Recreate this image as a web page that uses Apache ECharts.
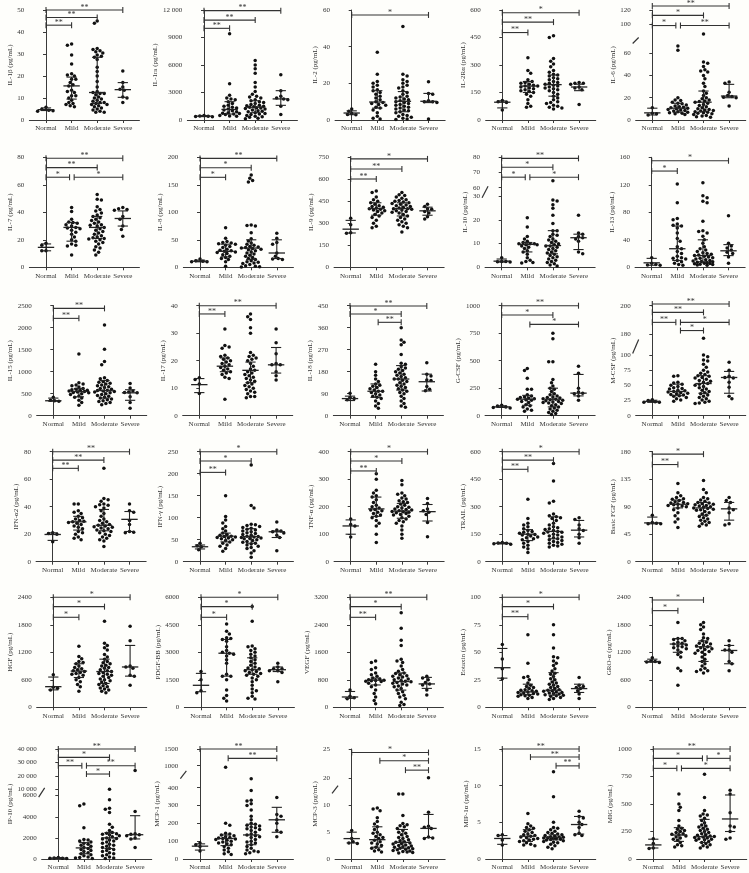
<!DOCTYPE html>
<html><head><meta charset="utf-8">
<script src="https://cdn.jsdelivr.net/npm/echarts@6/dist/echarts.min.js"></script>
<style>html,body{margin:0;padding:0;background:#fefefb}#c{width:749px;height:873px}</style>
</head><body><div id="c"></div><script>
// ---------------- DATA ----------------
const groups = ['Normal', 'Mild', 'Moderate', 'Severe'];

const IL1b = [[5.8,4.9,4.4,4.2,4.0],
 [34.5,34,29.5,25.5,21,20.5,20,18.5,18.5,17,16,15.5,13.5,13,12.5,11,11,10,9,8,7.5,7,6.5,6],
 [45,44,32.5,32,31.5,31,30.5,29.5,29,28.5,27.5,24,22,20,17.5,15,13,12.5,12,12,11.5,10.5,10,9.5,9,8.5,8,8,7.5,7,7,6.5,6,5.5,5,4.5,4,3.5,3.5],
 [22.3,17,15,14,13.5,10.5,10,8]];
const IL1b_stats = [[4.7,4.3,5.5],[15.5,9.5,19.5],[12.5,7.5,28.5],[13.8,10.3,17]];
const IL1b_sig = [[0,1,43.1,'**'],[0,2,46.6,'**'],[0,3,50,'**']];
const IL1b_ticks = [0,10,20,30,40,50];

const IL1ra = [[500,450,420,380,350],
 [9400,3950,2700,2400,2300,2200,2000,1800,1600,1500,1400,1300,1200,1100,1000,900,800,750,700,650,600,500,450,400],
 [6500,6000,5600,5100,4100,3600,3100,2800,2600,2500,2400,2200,2100,2000,1900,1800,1700,1600,1550,1500,1450,1400,1350,1300,1250,1200,1100,1000,950,900,800,700,650,600,500,400,350,300,200,150],
 [4950,3200,2600,2400,2300,2200,1500,600]];
const IL1ra_stats = [[420,370,480],[1150,650,2000],[1400,800,2100],[2300,1600,3200]];
const IL1ra_sig = [[0,1,10000,'**'],[0,2,10900,'**'],[0,3,11930,'**']];
const IL1ra_ticks = [0,3000,6000,9000,12000];

const IL2 = [[6,4.8,3.5,3.0,2.8],
 [37,25,21,20,19,18,16.5,16,15,14,13,12,11,10,9.5,9,8.5,8,7,6.5,5.5,4,2,1,0.5],
 [51,25,24,22,21,20,19,18,17.5,16,15,14,13,12.5,12,11.5,11,10.5,10,9.5,9,8.5,8,7.5,7,6.5,6,5.5,5,4.5,4,3,2.5,2,1.5,1,0.5,0.3],
 [20.8,14.5,14,10.5,10,10,9.5,0.5]];
const IL2_stats = [[3.8,2.9,5],[9.8,6.5,16],[10.2,4.5,15.5],[10.2,9.5,14.5]];
const IL2_sig = [[0,3,57.3,'*']];
const IL2_ticks = [0,20,40,60];

const IL2Ra = [[106,100,95,55],
 [340,270,255,220,210,205,200,195,190,185,185,180,175,170,165,160,155,150,140,130,110,90,75,70],
 [460,450,335,320,305,290,270,260,250,245,240,230,225,220,210,205,200,195,190,185,180,175,170,165,160,150,140,130,120,110,100,95,90,80,75,70,65,60],
 [205,200,200,195,180,175,165,85]];
const IL2Ra_stats = [[97,66,104],[185,150,210],[193,130,245],[180,160,195]];
const IL2Ra_sig = [[0,1,477,'**'],[0,2,534,'**'],[0,3,585,'*']];
const IL2Ra_ticks = [0,150,300,450,600];

const IL6 = [[11,6,5.5,4.5],
 [66.5,62.5,20,18,17.5,16,15,14.5,13.5,12.5,12,11.5,11,10.5,10,9.5,9,8.5,8,7.5,7,6.5,6,5.5,5],
 [87,52,51,48,45,44,43,40,37,33,30,26,24,22,20,19,18,17,16.5,16,15,14,13,12,11,10,9.5,9,8.5,8,7.5,7,6.5,6,5.5,5,4,3.5,3,2.5],
 [34,33,25,22,21,20.5,20,12.5]];
const IL6_stats = [[6.4,4.5,10.6],[10.6,7,15],[16,7.5,26],[21.5,20,32]];
const IL6_sig = [[0,1,98.6,'*'],[1,3,98.6,'**'],[0,2,112.6,'*'],[0,3,125.6,'**']];
const IL6_ticks = [0,20,40,60,100,120];

const IL7 = [[17.5,16,12,12],
 [43.5,40.5,35,33,32.5,32,31,30,29,28.5,28,27,25.5,24,22,20,19,17,16,15.5,9],
 [53,49.5,49,44,42,41,39.5,38,37,36,35,34,33,32,31,30.5,30,29,28,27,26,25,24,23,22,21.5,21,20.5,20,19,18,17,15,14,12.5,11,9],
 [43.5,42.5,42,41.5,37,35,30,27.5,22.5]];
const IL7_stats = [[14.5,12,17],[29,19,32.5],[29,21,37],[35.5,30,41]];
const IL7_sig = [[0,1,65.5,'*'],[1,3,65.5,'*'],[0,2,72.5,'**'],[0,3,79.3,'**']];
const IL7_ticks = [0,20,40,60,80];

const IL8 = [[15,12,11,10,10],
 [72,53,47,45,44,43,42,40,38,36,33,31,30,29,28,27,25,23,20,18,16,14,10,2],
 [168,162,158,155,77,76,75,63,52,48,44,42,40,38,37,36,35,34,33,32,30,28,26,24,22,20,18,16,14,12,10,9,8,7,5,3,2,1,0.5],
 [62,53,45,42,26,20,16,15,14]];
const IL8_stats = [[11,10,13],[29,19,42],[35,14,50],[26,16,50]];
const IL8_sig = [[0,1,163.6,'*'],[0,2,181,'*'],[0,3,198,'**']];
const IL8_ticks = [0,50,100,150,200];

const IL9 = [[335,290,235,232],
 [520,510,480,460,450,440,430,420,415,410,405,400,395,390,385,380,370,360,350,340,320,300,280,270],
 [510,495,490,480,470,460,455,450,445,440,435,430,425,420,415,410,405,400,400,395,390,385,380,375,370,360,350,340,330,320,310,300,290,280,270,240],
 [430,415,400,395,380,370,345,330]];
const IL9_stats = [[260,234,320],[400,355,440],[400,350,440],[385,355,410]];
const IL9_sig = [[0,1,602,'**'],[0,2,670,'**'],[0,3,739,'*']];
const IL9_ticks = [0,150,300,450,600,750];

const IL10 = [[4,2.5,2.5,2.3,2.2],
 [21,17,13,12,11,10.5,10,10,10,9.5,9.5,9,8.5,8,7,6.5,5.5,4,3,2.5,2,1.8],
 [64.5,28.5,28,26.5,25,22,18.5,15.5,15.5,14,13.5,13,12,11.5,11,10.5,10,9.5,9,9,8.5,8,7.5,7,6.5,6,5.5,5,4.5,4,3.5,3,2.5,2,1.5,1,0.5],
 [22,14.5,14,13,12.5,12,11,6.5,5.7]];
const IL10_stats = [[2.6,2.2,3.5],[9.7,6.5,10.5],[9.2,5.7,15.5],[12.5,7.5,14]];
const IL10_sig = [[0,1,66.9,'*'],[1,3,66.9,'*'],[0,2,73.4,'*'],[0,3,79.3,'**']];
const IL10_ticks = [0,10,20,30,60,70,80];

const IL13 = [[14,6,4,3.5,3],
 [121,94,71,69,63,61,60,57,50,42,38,30,27,23,20,16,14,13,12,10,8,6,4,3],
 [123,104,101,96,94,67,53,52,50,45,40,35,30,27,25,23,21,20,19,18,17,16,15,14,13,12,11,10,9,8.5,8,7.5,7,6,5.5,5,4.5,4,3.5,3],
 [75,35,31,28,25,22,20,15,6]];
const IL13_stats = [[6.5,3,13],[27,10,60],[17,8,40],[24,17,33]];
const IL13_sig = [[0,1,140,'*'],[0,3,155,'*']];
const IL13_ticks = [0,40,80,120,160];

const IL15 = [[420,350,340,330],
 [1400,750,720,700,680,650,620,600,590,580,570,560,550,540,530,520,500,480,450,420,400,350,300,240],
 [2060,1510,1230,1160,860,840,800,780,760,740,720,700,680,660,640,620,600,580,570,560,550,540,520,500,480,460,440,420,400,380,360,340,320,300,280,250],
 [730,630,560,540,530,520,430,300,170]];
const IL15_stats = [[340,330,400],[550,430,620],[570,400,800],[520,350,590]];
const IL15_sig = [[0,1,2212,'**'],[0,2,2439,'**']];
const IL15_ticks = [0,500,1000,1500,2000,2500];

const IL17 = [[13.8,13.2,11.5,8.1],
 [31.5,25.5,25,24.5,22,21.5,21,20.5,20,19.5,19,18.5,18,17.5,17,16.5,16,15.5,15,14,13.5,6],
 [37,36,35,32,30,23,22,21.5,21,20.5,20,19,18,17,16.5,16,15.5,15,14.5,14,13.5,13,12.5,12,11.5,11,10.5,10,9.5,9,8.5,8,7,7,6.5],
 [31.5,26.5,22.5,19,18.5,18.5,16,14.5,13]];
const IL17_stats = [[11.3,8.4,13.5],[18,16,21],[16.5,12,19.5],[18.5,15.5,24.8]];
const IL17_sig = [[0,1,37,'**'],[0,3,40,'**']];
const IL17_ticks = [0,10,20,30,40];

const IL18 = [[92,75,70,65],
 [210,180,165,150,140,130,125,120,115,110,105,100,100,95,90,85,80,75,70,60,50,40,30],
 [360,310,300,290,250,215,210,200,195,190,185,180,175,170,165,160,155,150,150,145,140,135,130,125,120,115,110,105,100,95,90,80,70,60,50,40,35],
 [217,170,162,146,144,119,108,102]];
const IL18_stats = [[70,62,80],[100,75,130],[150,105,205],[139,101,170]];
const IL18_sig = [[0,3,449,'**'],[0,2,416,'*'],[1,2,382,'**']];
const IL18_ticks = [0,90,180,270,360,450];

const GCSF = [[95,88,80,75,70],
 [430,410,340,240,240,190,180,170,165,160,155,150,145,140,130,120,100,90,80,60,50,40],
 [750,700,490,490,330,300,270,250,240,220,200,190,180,170,165,160,155,150,145,140,135,130,125,120,115,110,100,90,80,70,60,50,40,30,20,10],
 [450,385,250,215,205,200,180,140]];
const GCSF_stats = [[80,75,90],[150,95,185],[150,80,250],[205,180,375]];
const GCSF_sig = [[0,3,1000,'**'],[0,2,915,'*'],[1,3,830,'*']];
const GCSF_ticks = [0,250,500,750,1000];

const MCSF = [[26.5,25,23,22,22],
 [66,65,55,54,52,50,48,46,45,44,42,41,40,39,38,37,36,35,34,33,32,30,28,26,24],
 [177,100,97,92,90,85,80,75,72,70,68,66,65,63,62,60,58,57,55,53,52,50,48,46,44,42,40,38,36,34,32,30,28,26,24,22,21,20],
 [88,75,65,63,62,55,47,32,28]];
const MCSF_stats = [[23.5,22,25.5],[40,33,52],[53,37,66],[63,37,73]];
const MCSF_sig = [[0,3,201.2,'**'],[0,2,195.3,'**'],[0,1,188.2,'**'],[1,3,188.2,'*'],[1,2,182.4,'*']];
const MCSF_ticks = [0,25,50,75,100,180,200];

const IFNa2 = [[21,20.5,20,14.5],
 [42,42,37,36,35,33,32,31,30,29.5,29,28.5,28,27,26,25,24,22,21,20,18,17,16],
 [68,46,45,44,42,41.5,41,40,39,37,35,33,31,30,29,28,27,26.5,26,25.5,25,24.5,24,23,22.5,22,21,20,19,18,17,16,15,11],
 [42,37,36,30,27,22,21.5,21]];
const IFNa2_stats = [[19.8,15.5,21],[29,23,33],[26.5,22.5,38],[30.8,22,36.5]];
const IFNa2_sig = [[0,1,67.9,'**'],[0,2,73.9,'**'],[0,3,80,'**']];
const IFNa2_ticks = [0,20,40,60,80];

const IFNg = [[42,36,34,27],
 [150,103,95,88,80,75,70,65,62,60,58,57,56,55,54,52,50,48,45,42,38,35,30,24],
 [220,128,122,85,84,82,80,78,76,74,72,70,68,66,64,62,60,58,57,56,55,54,53,52,50,48,46,44,42,40,38,35,32,30,25,20,10],
 [90,72,70,68,65,60,55,25]];
const IFNg_stats = [[34,29,38],[58,45,65],[57,42,75],[68,55,70]];
const IFNg_sig = [[0,1,203,'**'],[0,2,228.8,'*'],[0,3,250,'*']];
const IFNg_ticks = [0,50,100,150,200,250];

const TNFa = [[155,135,130,90],
 [320,300,260,250,240,235,225,215,205,200,195,190,188,185,180,175,170,165,160,150,140,130,100,70],
 [295,280,250,245,240,232,228,222,218,215,210,205,200,198,195,192,190,188,185,183,182,180,178,175,172,170,165,160,155,150,145,140,130,115,100,85],
 [230,212,192,185,180,172,143,91]];
const TNFa_stats = [[130,100,152],[192,165,235],[184,158,212],[182,148,208]];
const TNFa_sig = [[0,1,330,'**'],[0,2,366,'*'],[0,3,400,'*']];
const TNFa_ticks = [0,100,200,300,400];

const TRAIL = [[105,102,100,98,95],
 [340,235,210,200,190,180,170,165,160,155,150,148,145,140,135,130,125,120,110,100,90,80,70,50],
 [535,440,330,320,260,250,245,240,235,225,210,200,190,185,180,175,170,165,162,160,155,150,145,140,135,130,125,120,115,110,105,100,95,90,85,80],
 [240,230,200,180,170,150,130,100]];
const TRAIL_stats = [[100,97,104],[150,115,175],[165,125,245],[172,135,225]];
const TRAIL_sig = [[0,1,504,'**'],[0,2,554,'**'],[0,3,600,'*']];
const TRAIL_ticks = [0,150,300,450,600];

const bFGF = [[76,64,63,62,62],
 [128,113,108,105,103,102,100,98,97,96,95,94,93,92,91,90,88,85,80,75,70,65,56],
 [133,118,113,105,103,101,99,97,96,95,94,93,92,91,90,89,88,87,86,85,84,82,80,78,76,74,72,70,68,66,64,62,60,58],
 [105,100,97,88,85,80,62,60]];
const bFGF_stats = [[63.5,62,73],[94,88,101],[88,76,97],[86.5,68,97]];
const bFGF_sig = [[0,1,159,'**'],[0,2,176,'*']];
const bFGF_ticks = [0,45,90,135,180];

const HGF = [[710,440,415,380],
 [1330,1110,1060,1000,980,950,900,870,840,820,800,780,760,740,720,700,650,600,560,500,450,350],
 [1880,1400,1350,1300,1250,1150,1100,1050,1000,970,950,920,900,870,850,820,800,780,760,740,720,700,680,650,620,600,580,550,520,500,470,450,420,400,380,350,320],
 [1770,1450,900,880,850,700,680,480]];
const HGF_stats = [[450,380,660],[790,650,950],[780,520,1050],[880,680,1350]];
const HGF_sig = [[0,1,1964,'*'],[0,2,2196,'*'],[0,3,2400,'*']];
const HGF_ticks = [0,600,1200,1800,2400];

const PDGF = [[1950,1500,900,800],
 [4550,4150,4000,3800,3750,3700,3600,3300,3100,3000,2950,2900,2800,2600,2400,1800,1700,1700,1500,950,650,500,350],
 [5500,4700,3350,3300,3200,3100,3000,2900,2800,2700,2600,2500,2400,2300,2200,2150,2100,2050,2000,1950,1900,1850,1800,1750,1700,1600,1500,1400,1200,1000,900,800,600,500,450],
 [2400,2200,2100,2100,2000,2000,1900,1400]];
const PDGF_stats = [[1200,850,1850],[2950,1700,3700],[2050,1800,2700],[2050,1950,2200]];
const PDGF_sig = [[0,1,4909,'*'],[0,2,5491,'*'],[0,3,6000,'*']];
const PDGF_ticks = [0,1500,3000,4500,6000];

const VEGF = [[500,320,280,250],
 [1350,1300,1150,1100,1000,950,900,850,820,800,790,780,770,760,750,700,650,600,500,400,300,200,100],
 [2750,2300,1950,1800,1400,1350,1300,1200,1100,1050,1000,980,950,920,900,880,850,820,800,780,760,740,720,700,680,650,620,600,550,500,450,400,350,300,250,150,80,50],
 [900,850,800,720,680,650,500,360]];
const VEGF_stats = [[300,260,460],[790,650,850],[750,500,1000],[680,550,870]];
const VEGF_sig = [[0,1,2618,'**'],[0,2,2928,'*'],[0,3,3200,'**']];
const VEGF_ticks = [0,800,1600,2400,3200];

const EOT = [[57,44,35,26],
 [66,40,28,27,25,22,20,19,18,17,16,15.5,15,14.5,14,13.5,13,12.5,12,11.5,11,10.5,10,9,8],
 [75,66,54,46,45,42,40,38,35,33,31,30,28,26,25,23,22,21,20,19,18,17,16,15.5,15,14.5,14,13.5,13,12.5,12,11.5,11,10.5,10,9,8,7],
 [27,20,19,18,17,15,12,8]];
const EOT_stats = [[36,26.5,53.5],[14,11.5,21],[15.5,11,31.5],[17,13.5,21]];
const EOT_sig = [[0,1,82.4,'**'],[0,2,91.5,'*'],[0,3,100,'*']];
const EOT_ticks = [0,25,50,75,100];

const GRO = [[1080,1010,1000,990,980],
 [1850,1500,1500,1480,1450,1420,1400,1380,1360,1340,1320,1300,1280,1250,1200,1150,1100,850,800,480],
 [1850,1800,1750,1700,1600,1520,1500,1450,1420,1400,1380,1360,1340,1320,1300,1280,1260,1240,1220,1200,1180,1150,1100,1050,1000,950,900,850,820,800,780,750],
 [1450,1350,1250,1250,1200,1000,950,800]];
const GRO_stats = [[1000,985,1050],[1380,1200,1500],[1320,1000,1450],[1240,950,1350]];
const GRO_sig = [[0,1,2109,'*'],[0,2,2342,'*']];
const GRO_ticks = [0,600,1200,1800,2400];

const IP10 = [[150,100,80,60,50],
 [5200,5050,2950,1850,1800,1700,1600,1500,1400,1300,1200,1100,1000,900,800,700,600,500,400,300,200,150,100,50],
 [10000,5600,4800,4700,4400,3300,3000,2700,2500,2450,2400,2350,2300,2200,2100,2000,1950,1900,1800,1700,1600,1500,1400,1300,1200,1100,1000,900,800,700,600,500,400,300,200,100,50],
 [24000,4500,2400,2350,2300,2200,2000,1900,1100]];
const IP10_stats = [[80,50,130],[1050,500,1550],[2000,1000,2500],[2300,1900,4100]];
const IP10_sig = [[0,1,27600,'**'],[1,3,27600,'**'],[0,2,33800,'*'],[0,3,40000,'**'],[1,2,21400,'*']];
const IP10_ticks = [0,2000,4000,6000,10000,20000,30000,40000];

const MCP1 = [[90,80,70,45],
 [950,200,190,145,140,135,130,125,120,118,115,112,110,105,100,95,90,85,80,70,60,50,40,30,25],
 [450,385,330,325,310,300,275,240,220,200,195,190,185,180,175,170,165,160,150,140,135,130,125,120,110,100,95,90,80,70,60,50,45,40,35,30],
 [345,250,240,220,200,160,150,125]];
const MCP1_stats = [[72,50,85],[115,75,135],[135,80,195],[220,150,290]];
const MCP1_sig = [[0,3,1500,'**'],[1,3,1220,'**']];
const MCP1_ticks = [0,100,200,300,400,1000,1500];

const MCP3 = [[5.3,3.8,3.2,3.0,2.9],
 [9.5,9.3,9,7.7,7,6.5,6,5.5,5,4.8,4.5,4.2,4,3.8,3.5,3.2,3,2.8,2.5,2.2,2,1.7,1.5,1.3],
 [12.1,12.1,8.1,6.6,6.4,6.2,6,5.7,5.3,5,4.8,4.5,4.2,4,3.8,3.6,3.4,3.2,3.1,3,2.9,2.8,2.6,2.5,2.4,2.3,2.2,2.1,2,1.9,1.8,1.7,1.6,1.5,1.4,1.3,1.2,1.1],
 [20.1,8.7,6.1,5.9,5.7,4.1,3.9,3.8]];
const MCP3_stats = [[3.8,3.0,5.0],[3.6,2.2,6],[3.1,2.0,5.5],[5.7,4.0,8.3]];
const MCP3_sig = [[0,3,24.4,'*'],[1,3,23.0,'*'],[2,3,21.4,'**']];
const MCP3_ticks = [0,5,10,20,25];

const MIP1a = [[3.3,3.2,2.6,1.9],
 [6.2,4.8,4.5,4.3,4.2,4,3.8,3.6,3.4,3.3,3.2,3.1,3,2.9,2.8,2.7,2.6,2.5,2.4,2.2,2,1.9,1.8],
 [11.9,8.5,5,4.3,4.2,4,3.8,3.6,3.5,3.4,3.3,3.2,3.1,3.05,3,2.95,2.9,2.85,2.8,2.75,2.7,2.65,2.6,2.5,2.4,2.3,2.2,2,1.8,1.6,1.4],
 [6.5,5.8,5.6,5,4.7,4.3,3.5,3.3,3.2]];
const MIP1a_stats = [[2.8,2.0,3.2],[3.1,2.4,4],[2.95,2.6,3.3],[4.7,3.4,5.8]];
const MIP1a_sig = [[0,3,15,'**'],[1,3,13.9,'**'],[2,3,12.7,'**']];
const MIP1a_ticks = [0,5,10,15];

const MIG = [[185,140,100,95],
 [590,500,470,440,350,300,280,270,260,250,240,230,225,220,210,200,190,180,170,150,130,120,110],
 [770,560,440,410,400,390,370,350,330,310,300,290,280,270,260,250,240,230,220,215,210,205,200,195,190,185,180,175,170,160,150,140,130,120,110,100],
 [625,590,420,300,290,250,190,180]];
const MIG_stats = [[128,100,180],[218,160,285],[203,150,360],[364,250,582]];
const MIG_sig = [[0,3,1000,'**'],[0,2,915,'*'],[2,3,915,'*'],[0,1,824,'*'],[1,3,824,'*']];
const MIG_ticks = [0,250,500,750,1000];

const panels = [
 ['IL-1β (pg/mL)', IL1b, IL1b_stats, IL1b_sig, IL1b_ticks],
 ['IL-1ra (pg/mL)', IL1ra, IL1ra_stats, IL1ra_sig, IL1ra_ticks],
 ['IL-2 (pg/mL)', IL2, IL2_stats, IL2_sig, IL2_ticks],
 ['IL-2Rα (pg/mL)', IL2Ra, IL2Ra_stats, IL2Ra_sig, IL2Ra_ticks],
 ['IL-6 (pg/mL)', IL6, IL6_stats, IL6_sig, IL6_ticks],
 ['IL-7 (pg/mL)', IL7, IL7_stats, IL7_sig, IL7_ticks],
 ['IL-8 (pg/mL)', IL8, IL8_stats, IL8_sig, IL8_ticks],
 ['IL-9 (pg/mL)', IL9, IL9_stats, IL9_sig, IL9_ticks],
 ['IL-10 (pg/mL)', IL10, IL10_stats, IL10_sig, IL10_ticks],
 ['IL-13 (pg/mL)', IL13, IL13_stats, IL13_sig, IL13_ticks],
 ['IL-15 (pg/mL)', IL15, IL15_stats, IL15_sig, IL15_ticks],
 ['IL-17 (pg/mL)', IL17, IL17_stats, IL17_sig, IL17_ticks],
 ['IL-18 (pg/mL)', IL18, IL18_stats, IL18_sig, IL18_ticks],
 ['G-CSF (pg/mL)', GCSF, GCSF_stats, GCSF_sig, GCSF_ticks],
 ['M-CSF (pg/mL)', MCSF, MCSF_stats, MCSF_sig, MCSF_ticks],
 ['IFN-α2 (pg/mL)', IFNa2, IFNa2_stats, IFNa2_sig, IFNa2_ticks],
 ['IFN-γ (pg/mL)', IFNg, IFNg_stats, IFNg_sig, IFNg_ticks],
 ['TNF-α (pg/mL)', TNFa, TNFa_stats, TNFa_sig, TNFa_ticks],
 ['TRAIL (pg/mL)', TRAIL, TRAIL_stats, TRAIL_sig, TRAIL_ticks],
 ['Basic FGF (pg/mL)', bFGF, bFGF_stats, bFGF_sig, bFGF_ticks],
 ['HGF (pg/mL)', HGF, HGF_stats, HGF_sig, HGF_ticks],
 ['PDGF-BB (pg/mL)', PDGF, PDGF_stats, PDGF_sig, PDGF_ticks],
 ['VEGF (pg/mL)', VEGF, VEGF_stats, VEGF_sig, VEGF_ticks],
 ['Eotaxin (pg/mL)', EOT, EOT_stats, EOT_sig, EOT_ticks],
 ['GRO-α (pg/mL)', GRO, GRO_stats, GRO_sig, GRO_ticks],
 ['IP-10 (pg/mL)', IP10, IP10_stats, IP10_sig, IP10_ticks],
 ['MCP-1 (pg/mL)', MCP1, MCP1_stats, MCP1_sig, MCP1_ticks],
 ['MCP-3 (pg/mL)', MCP3, MCP3_stats, MCP3_sig, MCP3_ticks],
 ['MIP-1α (pg/mL)', MIP1a, MIP1a_stats, MIP1a_sig, MIP1a_ticks],
 ['MIG (pg/mL)', MIG, MIG_stats, MIG_sig, MIG_ticks]
];

// ---------------- LAYOUT / STYLE ----------------
// broken axes: value ranges of lower / upper segment and where they sit (fraction of axis)
const axisBreaks = {
  4:  {lo:[0,70],   hi:[80,120],    at:[0.709,0.736]},
  8:  {lo:[0,30],   hi:[60,80],     at:[0.645,0.724]},
  14: {lo:[0,105],  hi:[175,200],   at:[0.579,0.679]},
  25: {lo:[0,6000], hi:[10000,40000], at:[0.576,0.633]},
  26: {lo:[0,460],  hi:[800,1500],  at:[0.745,0.788]},
  27: {lo:[0,12.5], hi:[18.5,25],   at:[0.610,0.653]}
};
const rowTop = [10, 157.3, 305.7, 451.7, 597.3, 749];
const normalX = [46,204,351.7,502.3,652.3, 46,200,350.7,501.7,651.7, 53.3,199.3,350,501.7,652.3,
                 52.7,200,350.7,502.3,652.3, 53.3,201,350,502.3,652.3, 58.3,200,351.7,502.3,653.3];
const PLOT_H = 110, SPACING = 25.6, XPAD = 0.65;
const FONT = '"Liberation Serif", "Times New Roman", serif';
const TXT = '#333', AX = '#3a3a3a', DOT = '#111';
const DIAM = 3.5;

const mctx = document.createElement('canvas').getContext('2d');
mctx.font = '7px ' + FONT;

function fmt(v) {
  if (v >= 10000) return String(v).replace(/\B(?=(\d{3})+(?!\d))/g, ' ');
  return String(v);
}
function makeDisp(i, ticks) {
  const b = axisBreaks[i];
  const top = ticks[ticks.length - 1];
  if (!b) return v => v / top;
  return v => {
    if (v <= b.lo[1]) return (v - b.lo[0]) / (b.lo[1] - b.lo[0]) * b.at[0];
    if (v >= b.hi[0]) return b.at[1] + (v - b.hi[0]) / (b.hi[1] - b.hi[0]) * (1 - b.at[1]);
    return b.at[0] + (v - b.lo[1]) / (b.hi[0] - b.lo[1]) * (b.at[1] - b.at[0]);
  };
}
function swarm(ys, diam, maxOff) {
  const placed = [], out = [];
  const step = diam / 2.5;
  const cands = [0];
  for (let k = 1; k * step <= maxOff; k++) cands.push(k * step, -k * step);
  ys.forEach((y, n) => {
    let best = 0, bestD = -1;
    for (const c0 of cands) {
      const c = (n % 2) ? -c0 : c0;
      let minD = Infinity;
      for (const p of placed) { const d = Math.hypot(p[0] - c, p[1] - y); if (d < minD) minD = d; }
      if (minD >= diam) { best = c; bestD = Infinity; break; }
      if (minD > bestD) { bestD = minD; best = c; }
    }
    placed.push([best, y]); out.push(best);
  });
  return out;
}

const option = {animation:false, backgroundColor:'#fefefb', grid:[], xAxis:[], yAxis:[], series:[]};

panels.forEach((p, i) => {
  const [name, data, stats, sig, ticks] = p;
  const row = Math.floor(i / 5);
  const disp = makeDisp(i, ticks);
  const left = normalX[i] - XPAD * SPACING;
  option.grid.push({left: left, top: rowTop[row], width: (3 + 2 * XPAD) * SPACING, height: PLOT_H});
  option.xAxis.push({
    gridIndex: i, type: 'value', min: -XPAD, max: 3 + XPAD,
    axisLine: {show: true, lineStyle: {color: AX, width: 1}},
    axisTick: {show: true, customValues: [0,1,2,3], length: 3, lineStyle: {color: AX}},
    axisLabel: {customValues: [0,1,2,3], formatter: v => groups[Math.round(v)], fontSize: 7,
      fontFamily: FONT, color: TXT, margin: 5},
    splitLine: {show: false}
  });
  const dticks = ticks.map(disp);
  const labMap = {};
  dticks.forEach((d, k) => { labMap[d.toFixed(6)] = fmt(ticks[k]); });
  const maxW = Math.max(...ticks.map(t => mctx.measureText(fmt(t)).width));
  option.yAxis.push({
    gridIndex: i, type: 'value', min: 0, max: 1,
    name: name, nameLocation: 'middle', nameGap: maxW + 9,
    nameTextStyle: {fontSize: 7, fontFamily: FONT, color: TXT},
    axisLine: {show: true, lineStyle: {color: AX, width: 1}},
    axisTick: {show: true, customValues: dticks, length: 3, lineStyle: {color: AX}},
    axisLabel: {customValues: dticks, formatter: v => labMap[v.toFixed(6)] ?? '', fontSize: 7,
      fontFamily: FONT, color: TXT, margin: 5},
    splitLine: {show: false}
  });

  // points (beeswarm layout)
  const pts = [];
  data.forEach((vals, g) => {
    const ys = vals.map(v => disp(v) * PLOT_H);
    const offs = swarm(ys, DIAM, 0.42 * SPACING);
    vals.forEach((v, k) => pts.push([g + offs[k] / SPACING, disp(v)]));
  });
  option.series.push({type: 'scatter', xAxisIndex: i, yAxisIndex: i, data: pts, symbol: 'circle',
    symbolSize: DIAM, itemStyle: {color: DOT, opacity: 1, borderWidth: 0}, silent: true, z: 3});

  // median + IQR
  option.series.push({
    type: 'custom', xAxisIndex: i, yAxisIndex: i, z: 5, silent: true, clip: false,
    data: stats.map((s, g) => [g, disp(s[0]), disp(s[1]), disp(s[2])]),
    renderItem: (params, api) => {
      const x = api.value(0);
      const pm = api.coord([x, api.value(1)]);
      const p1 = api.coord([x, api.value(2)]);
      const p3 = api.coord([x, api.value(3)]);
      const hw = api.size([0.32, 0])[0], cw = api.size([0.2, 0])[0];
      const st = {stroke: '#222', lineWidth: 1.1};
      return {type: 'group', children: [
        {type: 'line', shape: {x1: pm[0] - hw, y1: pm[1], x2: pm[0] + hw, y2: pm[1]}, style: {stroke: '#222', lineWidth: 1.3}},
        {type: 'line', shape: {x1: p1[0], y1: p1[1], x2: p3[0], y2: p3[1]}, style: st},
        {type: 'line', shape: {x1: p1[0] - cw, y1: p1[1], x2: p1[0] + cw, y2: p1[1]}, style: st},
        {type: 'line', shape: {x1: p3[0] - cw, y1: p3[1], x2: p3[0] + cw, y2: p3[1]}, style: st}
      ]};
    }
  });

  // significance brackets
  const br = sig.map(s => {
    let a = s[0], b = s[1];
    if (a > 0) a += 0.1;
    if (sig.some(o => o !== s && o[0] === s[1] && Math.abs(o[2] - s[2]) < 1e-9)) b -= 0.08;
    return [a, disp(s[2]), b];
  });
  option.series.push({
    type: 'custom', xAxisIndex: i, yAxisIndex: i, z: 6, silent: true, clip: false,
    data: br,
    renderItem: (params, api) => {
      const pa = api.coord([api.value(0), api.value(1)]);
      const pb = api.coord([api.value(2), api.value(1)]);
      const st = {stroke: '#333', lineWidth: 1.1};
      return {type: 'group', children: [
        {type: 'line', shape: {x1: pa[0], y1: pa[1], x2: pb[0], y2: pb[1]}, style: st},
        {type: 'line', shape: {x1: pa[0], y1: pa[1] - 3, x2: pa[0], y2: pa[1] + 3}, style: st},
        {type: 'line', shape: {x1: pb[0], y1: pb[1] - 3, x2: pb[0], y2: pb[1] + 3}, style: st},
        {type: 'text', x: (pa[0] + pb[0]) / 2, y: pa[1] - 2.5,
          style: {text: sig[params.dataIndex][3], fontSize: 8, fontFamily: FONT, fill: '#333',
            align: 'center', verticalAlign: 'middle'}}
      ]};
    }
  });

  // axis break marks
  const b = axisBreaks[i];
  if (b) {
    option.series.push({
      type: 'custom', xAxisIndex: i, yAxisIndex: i, z: 7, silent: true, clip: false,
      data: [[-XPAD, b.at[0], b.at[1]]],
      renderItem: (params, api) => {
        const lo = api.coord([api.value(0), api.value(1)]);
        const hi = api.coord([api.value(0), api.value(2)]);
        const x = lo[0];
        return {type: 'group', children: [
          {type: 'rect', shape: {x: x - 2, y: hi[1], width: 4, height: lo[1] - hi[1]}, style: {fill: '#fefefb'}},
          {type: 'line', shape: {x1: x - 3, y1: lo[1] + 1.5, x2: x + 3, y2: hi[1] - 1.5}, style: {stroke: '#333', lineWidth: 1.2}}
        ]};
      }
    });
  }
});

const chart = echarts.init(document.getElementById('c'), null, {renderer: 'canvas'});
chart.setOption(option);
</script></body></html>
